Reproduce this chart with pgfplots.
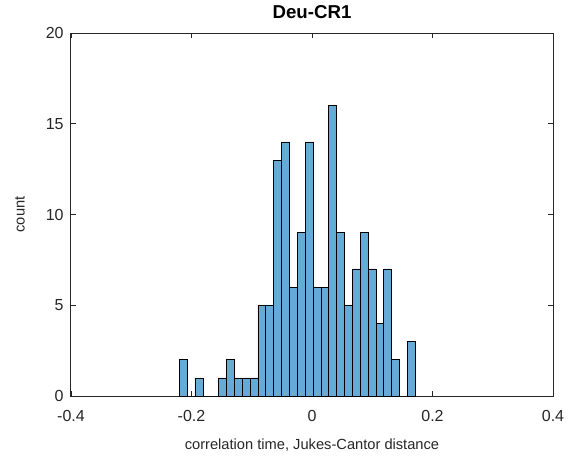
\documentclass[border=0pt]{standalone}
\usepackage{pgfplots}
\pgfplotsset{compat=1.18}
\usepackage{fontspec}
\setmainfont{Liberation Sans}
\definecolor{barfill}{RGB}{102,170,215}
\definecolor{axcol}{RGB}{38,38,38}
\begin{document}
\begin{tikzpicture}
\begin{axis}[
  scale only axis,
  width=361.5pt, height=272.25pt,
  xmin=-0.4, xmax=0.4, ymin=0, ymax=20,
  xtick={-0.4,-0.2,0,0.2,0.4},
  ytick={0,5,10,15,20},
  /pgf/number format/assume math mode=true,
  /pgf/number format/fixed,
  tick align=inside,
  major tick length=3.6pt,
  axis line style={axcol, line width=0.75pt},
  tick style={axcol, line width=0.6pt},
  ticklabel style={font=\fontsize{12}{14}\selectfont, text=axcol},
  xticklabel style={yshift=-7pt},
  yticklabel style={xshift=-2pt},
  label style={font=\fontsize{11}{13}\selectfont, text=axcol},
  xlabel={correlation time, Jukes-Cantor distance},
  ylabel={count},
  title={\bfseries Deu-CR1},
  title style={font=\fontsize{14}{16}\selectfont, yshift=1pt},
  xlabel style={yshift=-6pt},
  ylabel style={yshift=9pt},
]
\addplot[ybar interval, fill=barfill, draw=black, line width=0.5pt] coordinates {
(-0.22030,2) (-0.20724,0) (-0.19419,1) (-0.18113,0) (-0.16807,0)
(-0.15502,1) (-0.14196,2) (-0.12890,1) (-0.11585,1) (-0.10279,1)
(-0.08973,5) (-0.07668,5) (-0.06362,13) (-0.05056,14) (-0.03751,6)
(-0.02445,9) (-0.01139,14) (0.00166,6) (0.01472,6) (0.02778,16)
(0.04083,9) (0.05389,5) (0.06695,7) (0.08000,9) (0.09306,7)
(0.10612,4) (0.11917,7) (0.13223,2) (0.14529,0) (0.15834,3)
(0.17140,3)
};
\end{axis}
\pgfresetboundingbox
\path ([shift={(-53.25pt,-48.75pt)}]current axis.south west) rectangle ([shift={(11.25pt,24.75pt)}]current axis.north east);
\end{tikzpicture}
\end{document}
